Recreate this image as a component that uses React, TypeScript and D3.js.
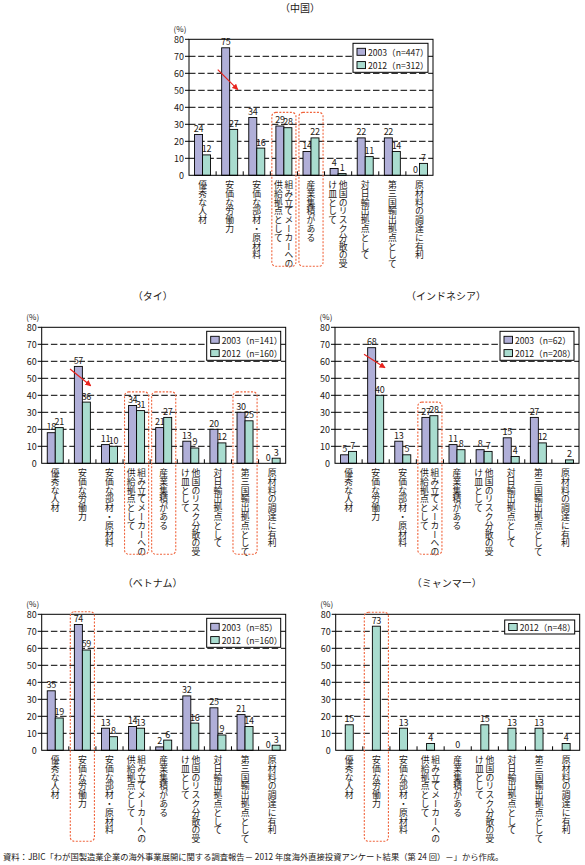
import React from "react";
import * as d3 from "d3";

const categoryLines: string[][] = [
  ["優秀な人材"],
  ["安価な労働力"],
  ["安価な部材・原材料"],
  ["組み立てメーカーへの", "供給拠点として"],
  ["産業集積がある"],
  ["他国のリスク分散の受", "け皿として"],
  ["対日輸出拠点として"],
  ["第三国輸出拠点として"],
  ["原材料の調達に有利"],
];

const yTicks = [0, 10, 20, 30, 40, 50, 60, 70, 80];

const china2003 = [24, 75, 34, 29, 14, 4, 22, 22, 0];
const china2012 = [12, 27, 16, 28, 22, 1, 11, 14, 7];
const thai2003 = [18, 57, 11, 34, 21, 13, 20, 30, 0];
const thai2012 = [21, 36, 10, 31, 27, 9, 12, 25, 3];
const indo2003: (number | null)[] = [5, 68, 13, 27, 11, 8, 15, 27, null];
const indo2012 = [7, 40, 5, 28, 8, 7, 4, 12, 2];
const viet2003 = [35, 74, 13, 14, 2, 32, 25, 21, 0];
const viet2012 = [19, 59, 8, 13, 6, 16, 9, 14, 3];
const myan2012 = [15, 73, 13, 4, 0, 15, 13, 13, 4];

const footnote =
  "資料：JBIC「わが国製造業企業の海外事業展開に関する調査報告－ 2012 年度海外直接投資アンケート結果（第 24 回）－」から作成。";

const C2003 = "#b0afd8";
const C2012 = "#a9dccf";
const TXT = "#231815";
const RED = "#e8231d";
const BOX = "#f0643c";
const FONT = "'Noto Sans CJK JP', 'Noto Sans', sans-serif";

type Series = { label: string; n: number; values: (number | null)[]; color: string };
type PanelCfg = {
  title: string;
  left: number;
  top: number;
  series: Series[];
  highlights: number[];
  boxTop: number;
  legendW: number;
  arrow?: { cat: number; from: [number, number]; to: [number, number] };
};

const panels: PanelCfg[] = [
  {
    title: "（中国）",
    left: 189,
    top: 39.3,
    series: [
      { label: "2003", n: 447, values: china2003, color: C2003 },
      { label: "2012", n: 312, values: china2012, color: C2012 },
    ],
    highlights: [3, 4],
    boxTop: 37,
    legendW: 75,
    arrow: { cat: 1, from: [0.06, 62.2], to: [0.8, 50.4] },
  },
  {
    title: "（タイ）",
    left: 41.7,
    top: 327.3,
    series: [
      { label: "2003", n: 141, values: thai2003, color: C2003 },
      { label: "2012", n: 160, values: thai2012, color: C2012 },
    ],
    highlights: [3, 4, 7],
    boxTop: 42,
    legendW: 74,
    arrow: { cat: 1, from: [0.045, 55.5], to: [0.81, 45.6] },
  },
  {
    title: "（インドネシア）",
    left: 335,
    top: 327.3,
    series: [
      { label: "2003", n: 62, values: indo2003, color: C2003 },
      { label: "2012", n: 208, values: indo2012, color: C2012 },
    ],
    highlights: [3],
    boxTop: 36,
    legendW: 74,
    arrow: { cat: 1, from: [0.07, 64.1], to: [0.845, 56.2] },
  },
  {
    title: "（ベトナム）",
    left: 41.7,
    top: 614.3,
    series: [
      { label: "2003", n: 85, values: viet2003, color: C2003 },
      { label: "2012", n: 160, values: viet2012, color: C2012 },
    ],
    highlights: [1],
    boxTop: 81.5,
    legendW: 74,
  },
  {
    title: "（ミャンマー）",
    left: 335.7,
    top: 614.3,
    series: [{ label: "2012", n: 48, values: myan2012, color: C2012 }],
    highlights: [1],
    boxTop: 81.2,
    legendW: 70,
  },
];

const W = 244;
const H = 136;
const BAR = 8;

function Panel({ cfg, id }: { cfg: PanelCfg; id: number }) {
  const idx = d3.range(categoryLines.length);
  const x = d3.scaleBand<number>().domain(idx).range([0, W]);
  const y = d3.scaleLinear().domain([0, 80]).range([H, 0]);
  const bw = x.bandwidth();
  const ns = cfg.series.length;
  const rows = ns;
  const legendH = rows === 2 ? 29 : 14;
  const lx = W - 5 - cfg.legendW;
  const ly = rows === 2 ? 4 : 5.7;
  return (
    <g transform={`translate(${cfg.left},${cfg.top})`}>
      <text x={111} y={-27} textAnchor="middle" fontSize={10} fill={TXT}>
        {cfg.title}
      </text>
      <text x={-9} y={-11} textAnchor="middle" dominantBaseline="central" fontSize={8} fill={TXT}>
        (%)
      </text>
      {/* gridlines */}
      {yTicks
        .filter((t) => t > 0 && t < 80)
        .map((t) => (
          <line key={t} x1={0} x2={W} y1={y(t)} y2={y(t)} stroke="#000" strokeWidth={1} strokeDasharray="6.5,2.7" />
        ))}
      {yTicks.map((t) => (
        <g key={"t" + t}>
          <text x={-5} y={y(t)} textAnchor="end" dominantBaseline="central" fontSize={9} fill={TXT}>
            {t}
          </text>
          {t > 0 && <line x1={-4} x2={0} y1={y(t)} y2={y(t)} stroke="#000" />}
        </g>
      ))}
      {/* bars */}
      {idx.map((i) => {
        const c = (x(i) as number) + bw / 2;
        return cfg.series.map((s, k) => {
          const v = s.values[i];
          const bx = c - (ns * BAR) / 2 + k * BAR;
          if (v === null || v === undefined) return null;
          return (
            <g key={i + "-" + k}>
              {v > 0 && (
                <rect x={bx} y={y(v)} width={BAR} height={H - y(v)} fill={s.color} stroke="#000" strokeWidth={0.9} />
              )}
              <text
                x={bx + BAR / 2}
                y={y(v) - 2.5}
                textAnchor="middle"
                fontSize={9}
                letterSpacing={-0.3}
                fill={TXT}
              >
                {v}
              </text>
            </g>
          );
        });
      })}
      {/* frame */}
      <rect x={0} y={0} width={W} height={H} fill="none" stroke="#000" strokeWidth={1} />
      {idx.slice(1).map((i) => (
        <line key={"b" + i} x1={x(i) as number} x2={x(i) as number} y1={H} y2={H - 4} stroke="#000" />
      ))}
      {/* category labels */}
      {idx.map((i) => {
        const c = (x(i) as number) + bw / 2;
        const lines = categoryLines[i];
        return lines.map((ln, j) => {
          const cx = lines.length === 1 ? c : j === 0 ? c + 5 : c - 5.5;
          return (
            <text
              key={i + "l" + j}
              x={cx}
              y={H + 5}
              fontSize={8.8}
              fill={TXT}
              style={{ writingMode: "vertical-rl" as any }}
            >
              {ln}
            </text>
          );
        });
      })}
      {/* highlight boxes */}
      {cfg.highlights.map((i) => (
        <rect
          key={"h" + i}
          x={(x(i) as number) + 1.5}
          y={y(cfg.boxTop)}
          width={bw - 3}
          height={H + 91 - y(cfg.boxTop)}
          rx={4}
          fill="none"
          stroke={BOX}
          strokeWidth={1.1}
          strokeDasharray="2,1.5"
        />
      ))}
      {/* arrow */}
      {cfg.arrow && (
        <line
          x1={(x(cfg.arrow.cat) as number) + cfg.arrow.from[0] * bw}
          y1={y(cfg.arrow.from[1])}
          x2={(x(cfg.arrow.cat) as number) + cfg.arrow.to[0] * bw}
          y2={y(cfg.arrow.to[1])}
          stroke={RED}
          strokeWidth={1.2}
          markerEnd={`url(#arrow${id})`}
        />
      )}
      <defs>
        <marker
          id={`arrow${id}`}
          viewBox="0 0 10 10"
          refX={9}
          refY={5}
          markerWidth={6}
          markerHeight={6}
          markerUnits="userSpaceOnUse"
          orient="auto"
        >
          <path d="M0,0 L10,5 L0,10 z" fill={RED} />
        </marker>
      </defs>
      {/* legend */}
      <g transform={`translate(${lx},${ly})`}>
        <rect x={0} y={0} width={cfg.legendW} height={legendH} fill="#fff" stroke="#000" strokeWidth={1} />
        {cfg.series.map((s, k) => {
          const cy = (rows === 2 ? 8.5 : 7) + k * 13.3;
          return (
            <g key={"lg" + k}>
              <rect x={4} y={cy - 3.5} width={8.5} height={7} fill={s.color} stroke="#000" strokeWidth={0.9} />
              <text x={15} y={cy} dominantBaseline="central" fontSize={8.6} fill={TXT}>
                {`${s.label}（n=${s.n}）`}
              </text>
            </g>
          );
        })}
      </g>
    </g>
  );
}

export default function App() {
  return (
    <svg
      width={585}
      height={865}
      style={{ position: "absolute", left: 0, top: 0, background: "#fff", fontFamily: FONT }}
    >
      <rect x={0} y={0} width={585} height={865} fill="#fff" />
      {panels.map((p, i) => (
        <Panel key={i} cfg={p} id={i} />
      ))}
      <text x={3} y={860} fontSize={8.3} fill={TXT}>
        {footnote}
      </text>
    </svg>
  );
}
